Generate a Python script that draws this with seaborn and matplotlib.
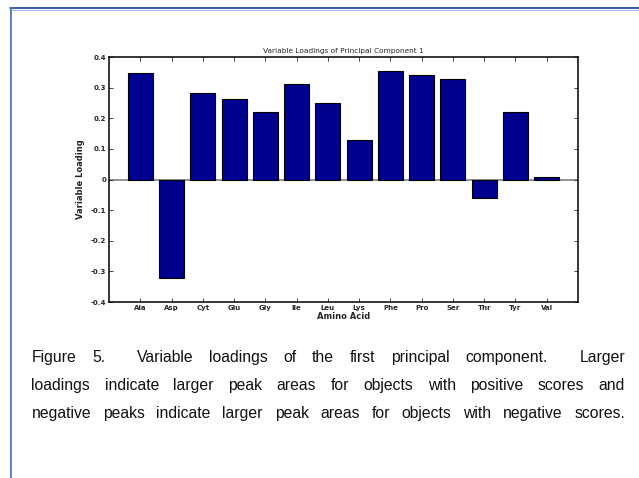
import re
import matplotlib
matplotlib.use("Agg")
import matplotlib.pyplot as plt
from matplotlib.lines import Line2D
import seaborn as sns
import pandas as pd

# Loadings of each amino acid on the first principal component
amino_acids = ["Ala", "Asp", "Cyt", "Glu", "Gly", "Ile", "Leu",
               "Lys", "Phe", "Pro", "Ser", "Thr", "Tyr", "Val"]
loadings = [0.348, -0.321, 0.282, 0.263, 0.221, 0.312, 0.251,
            0.130, 0.354, 0.342, 0.327, -0.060, 0.221, 0.009]

y_ticks = [-0.4, -0.3, -0.2, -0.1, 0.0, 0.1, 0.2, 0.3, 0.4]
y_tick_labels = ["-0.4", "-0.3", "-0.2", "-0.1", "0", "0.1", "0.2", "0.3", "0.4"]

chart_title = "Variable Loadings of Principal Component 1"
x_label = "Amino Acid"
y_label = "Variable Loading"

caption_lines = [
    "Figure 5.  Variable loadings of the first principal component.  Larger",
    "loadings indicate larger peak areas for objects with positive scores and",
    "negative peaks indicate larger peak areas for objects with negative scores.",
]

sns.set_style("ticks")
plt.rcParams["font.family"] = ["DejaVu Sans"]

W, H, DPI = 639, 478, 100
fig = plt.figure(figsize=(W / DPI, H / DPI), dpi=DPI)
fig.patch.set_facecolor("white")

# page border lines
fig.add_artist(Line2D([10 / W, 1], [1 - 8.3 / H] * 2, transform=fig.transFigure,
                      color="#2B4BA8", lw=1.3))
fig.add_artist(Line2D([10 / W, 1], [1 - 9.8 / H] * 2, transform=fig.transFigure,
                      color="#A9B8E6", lw=0.8))
fig.add_artist(Line2D([10.6 / W] * 2, [0, 1 - 8.3 / H], transform=fig.transFigure,
                      color="#4A76C6", lw=1.3))

left, right, top, bottom = 109, 578, 57, 302
ax = fig.add_axes([left / W, 1 - bottom / H, (right - left) / W, (bottom - top) / H])

df = pd.DataFrame({"amino_acid": amino_acids, "loading": loadings})
ax.axhline(0, color="#808080", lw=1.2, zorder=0.5)
sns.barplot(data=df, x="amino_acid", y="loading", ax=ax, color="#00008F",
            saturation=1, width=0.8, edgecolor="black", linewidth=0.8, zorder=2)

ax.set_xlim(-1, len(amino_acids))
ax.set_ylim(-0.4, 0.4)
ax.set_yticks(y_ticks)
ax.set_yticklabels(y_tick_labels)

for s in ax.spines.values():
    s.set_visible(True)
    s.set_linewidth(1.1)
    s.set_color("black")

ax.tick_params(axis="both", direction="in", length=3, width=0.6,
               top=True, right=True, labelsize=5, pad=2)
for lbl in ax.get_xticklabels() + ax.get_yticklabels():
    lbl.set_fontweight("bold")

ax.set_title(chart_title, fontsize=5.3, pad=3)
ax.set_xlabel(x_label, fontsize=6, fontweight="bold", labelpad=1)
ax.set_ylabel(y_label, fontsize=6, fontweight="bold", labelpad=4)

# justified caption
cap_font = dict(family=["Liberation Sans", "DejaVu Sans"], fontsize=11.3, color="#111111")
x0_px, x1_px = 31.5, 625
baselines = [361.7, 390, 418.3]

fig.canvas.draw()
renderer = fig.canvas.get_renderer()
for line, base in zip(caption_lines, baselines):
    tokens = re.findall(r"\S+| +", line)
    words = [t for t in tokens if not t.startswith(" ")]
    gaps = [len(t) for t in tokens if t.startswith(" ")]
    texts = [fig.text(0, 1 - base / H, w, va="baseline", ha="left", **cap_font)
             for w in words]
    widths = [t.get_window_extent(renderer).width for t in texts]
    spare = (x1_px - x0_px) - sum(widths)
    unit = spare / max(sum(gaps), 1)
    x = x0_px
    for i, t in enumerate(texts):
        t.set_x(x / W)
        x += widths[i]
        if i < len(gaps):
            x += unit * gaps[i]

fig.savefig("out.png", dpi=DPI)
